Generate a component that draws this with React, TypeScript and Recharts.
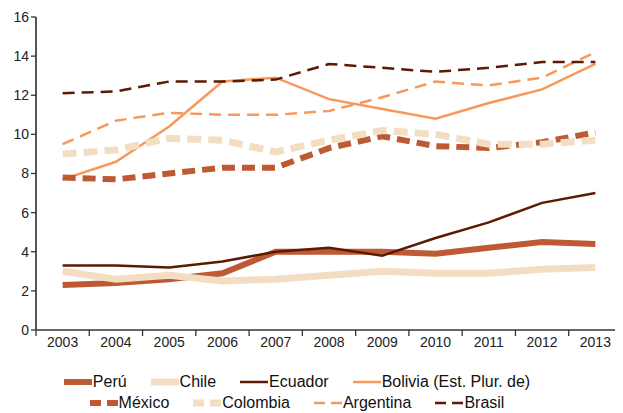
import { LineChart, Line, XAxis, YAxis, Legend } from "recharts";

const years = ["2003", "2004", "2005", "2006", "2007", "2008", "2009", "2010", "2011", "2012", "2013"];

const peru = [2.3, 2.4, 2.6, 2.9, 4.0, 4.0, 4.0, 3.9, 4.2, 4.5, 4.4];
const chile = [3.0, 2.6, 2.8, 2.5, 2.6, 2.8, 3.0, 2.9, 2.9, 3.1, 3.2];
const ecuador = [3.3, 3.3, 3.2, 3.5, 4.0, 4.2, 3.8, 4.7, 5.5, 6.5, 7.0];
const bolivia = [7.7, 8.6, 10.4, 12.7, 12.9, 11.8, 11.3, 10.8, 11.6, 12.3, 13.6];
const mexico = [7.8, 7.7, 8.0, 8.3, 8.3, 9.3, 9.9, 9.4, 9.3, 9.6, 10.1];
const colombia = [9.0, 9.2, 9.8, 9.7, 9.1, 9.7, 10.2, 10.0, 9.5, 9.5, 9.7];
const argentina = [9.5, 10.7, 11.1, 11.0, 11.0, 11.2, 11.9, 12.7, 12.5, 12.9, 14.2];
const brasil = [12.1, 12.2, 12.7, 12.7, 12.8, 13.6, 13.4, 13.2, 13.4, 13.7, 13.7];

const yTicks = [0, 2, 4, 6, 8, 10, 12, 14, 16];

const DARK = "#5c1a02";
const RUST = "#bd5a33";
const SAND = "#f3dec3";
const ORANGE = "#f7995a";

const series = [
  { key: "Perú", values: peru, color: RUST, width: 6, dash: undefined },
  { key: "Chile", values: chile, color: SAND, width: 7, dash: undefined },
  { key: "Ecuador", values: ecuador, color: DARK, width: 2.5, dash: undefined },
  { key: "Bolivia (Est. Plur. de)", values: bolivia, color: ORANGE, width: 2.5, dash: undefined },
  { key: "México", values: mexico, color: RUST, width: 6, dash: "13 7" },
  { key: "Colombia", values: colombia, color: SAND, width: 7, dash: "14 7" },
  { key: "Argentina", values: argentina, color: ORANGE, width: 2.5, dash: "12 7" },
  { key: "Brasil", values: brasil, color: DARK, width: 2.5, dash: "12 7" },
];

const data = years.map((y, i) => {
  const row: Record<string, number | string> = { year: y };
  series.forEach((s) => {
    row[s.key] = s.values[i];
  });
  return row;
});

const W = 615;
const H = 405;
const AXIS_X = 28;
const RIGHT = 1;
const BAND = (W - AXIS_X - RIGHT) / years.length;

const font = "'Liberation Sans', Arial, sans-serif";

const XTick = (props: any) => {
  const { x, y, payload, index } = props;
  const last = index === years.length - 1;
  return (
    <g>
      <line x1={x - BAND / 2} x2={x - BAND / 2} y1={y - 8} y2={y - 2} stroke="#333" strokeWidth={1.3} />
      {last && <line x1={x + BAND / 2} x2={x + BAND / 2} y1={y - 8} y2={y - 2} stroke="#333" strokeWidth={1.3} />}
      <text x={x} y={y + 9} textAnchor="middle" fontSize={14} fill="#222" fontFamily={font}>
        {payload.value}
      </text>
    </g>
  );
};

const LegendIcon = ({ s }: { s: (typeof series)[number] }) => (
  <svg width={28} height={10} style={{ marginRight: 1 }}>
    <line
      x1={0}
      x2={28}
      y1={5}
      y2={5}
      stroke={s.color}
      strokeWidth={s.width}
      strokeDasharray={s.dash ? "11 6" : undefined}
    />
  </svg>
);

const renderLegend = () => {
  const rows = [series.slice(0, 4), series.slice(4)];
  return (
    <div style={{ fontFamily: font, fontSize: 16, color: "#111", paddingRight: 36 }}>
      {rows.map((r, ri) => (
        <div key={ri} style={{ display: "flex", justifyContent: "center", lineHeight: "21px" }}>
          {r.map((s) => (
            <div key={s.key} style={{ display: "flex", alignItems: "center", margin: "0 12px" }}>
              <LegendIcon s={s} />
              <span>{s.key}</span>
            </div>
          ))}
        </div>
      ))}
    </div>
  );
};

export default function App() {
  return (
    <LineChart width={W} height={H} data={data} margin={{ top: 9, right: RIGHT, bottom: 0, left: 0 }}>
      <XAxis
        dataKey="year"
        tick={<XTick />}
        tickLine={false}
        axisLine={{ stroke: "#333", strokeWidth: 1.3 }}
        height={41}
        interval={0}
        padding={{ left: BAND / 2, right: BAND / 2 }}
      />
      <YAxis
        width={AXIS_X}
        domain={[0, 16]}
        ticks={yTicks}
        tick={{ fontSize: 14, fill: "#222", fontFamily: font }}
        tickLine={{ stroke: "#333", strokeWidth: 1.3 }}
        tickSize={5}
        axisLine={{ stroke: "#555", strokeWidth: 2 }}
      />
      <Legend verticalAlign="bottom" content={renderLegend} wrapperStyle={{ paddingTop: 0 }} />
      {series.map((s) => (
        <Line
          key={s.key}
          dataKey={s.key}
          stroke={s.color}
          strokeWidth={s.width}
          strokeDasharray={s.dash}
          dot={false}
          activeDot={false}
          isAnimationActive={false}
        />
      ))}
    </LineChart>
  );
}
